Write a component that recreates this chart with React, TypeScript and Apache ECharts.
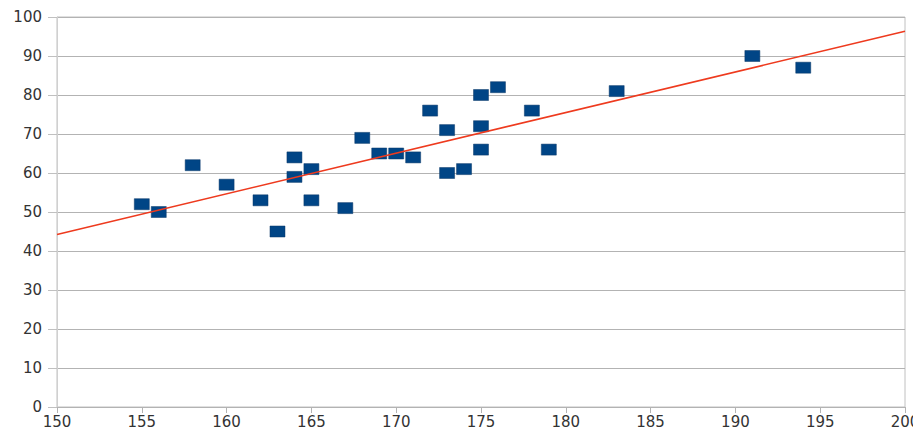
import React, { useEffect, useRef } from "react";
import * as echarts from "echarts";

const heights = [155, 156, 158, 160, 162, 163, 164, 164, 165, 165, 167, 168, 169, 170, 171, 172, 173, 173, 174, 175, 175, 175, 176, 178, 179, 183, 191, 194];
const weights = [52, 50, 62, 57, 53, 45, 64, 59, 61, 53, 51, 69, 65, 65, 64, 76, 71, 60, 61, 80, 72, 66, 82, 76, 66, 81, 90, 87];
const xRange = [150, 200];
const yRange = [0, 100];

function regression(xs: number[], ys: number[]) {
  const n = xs.length;
  const mx = xs.reduce((a, b) => a + b, 0) / n;
  const my = ys.reduce((a, b) => a + b, 0) / n;
  let sxy = 0;
  let sxx = 0;
  for (let i = 0; i < n; i++) {
    sxy += (xs[i] - mx) * (ys[i] - my);
    sxx += (xs[i] - mx) * (xs[i] - mx);
  }
  const slope = sxy / sxx;
  return (x: number) => my + slope * (x - mx);
}

export default function App() {
  const ref = useRef<HTMLDivElement>(null);
  useEffect(() => {
    if (!ref.current) return;
    const chart = echarts.init(ref.current, null, { renderer: "svg" });
    const f = regression(heights, weights);
    const points = heights.map((h, i) => [h, weights[i]]);
    const trend = xRange.map((x) => [x, f(x)]);
    const labelStyle = {
      color: "#333333",
      fontFamily: "DejaVu Sans",
      fontSize: 15,
      fontWeight: 500,
    };
    chart.setOption({
      animation: false,
      backgroundColor: "#ffffff",
      grid: {
        left: 57,
        right: 8,
        top: 17,
        bottom: 27,
        outerBoundsMode: "none",
        containLabel: false,
        show: true,
        borderColor: "#c0c0c0",
        borderWidth: 1,
      },
      xAxis: {
        type: "value",
        min: xRange[0],
        max: xRange[1],
        interval: 5,
        axisLine: { show: true, lineStyle: { color: "#b3b3b3", width: 1 } },
        axisTick: { show: true, length: 6, lineStyle: { color: "#b3b3b3" } },
        splitLine: { show: false },
        axisLabel: { ...labelStyle, margin: 7, showMaxLabel: true, hideOverlap: false },
      },
      yAxis: {
        type: "value",
        min: yRange[0],
        max: yRange[1],
        interval: 10,
        axisLine: { show: true, lineStyle: { color: "#d0d0d0", width: 1 } },
        axisTick: { show: true, length: 9, lineStyle: { color: "#c0c0c0" } },
        splitLine: { show: true, lineStyle: { color: "#b3b3b3", width: 1 } },
        axisLabel: { ...labelStyle, margin: 15 },
      },
      series: [
        {
          type: "scatter",
          data: points,
          symbol: "rect",
          symbolSize: [15, 11],
          itemStyle: { color: "#004586", borderColor: "#0a3868", borderWidth: 0.5, opacity: 1 },
          z: 2,
        },
        {
          type: "line",
          data: trend,
          symbol: "none",
          lineStyle: { color: "#ee3a1e", width: 1.6 },
          z: 3,
        },
      ],
    });
    return () => chart.dispose();
  }, []);
  return (
    <div
      ref={ref}
      style={{ position: "absolute", left: 0, top: 0, width: 913, height: 434 }}
    />
  );
}
